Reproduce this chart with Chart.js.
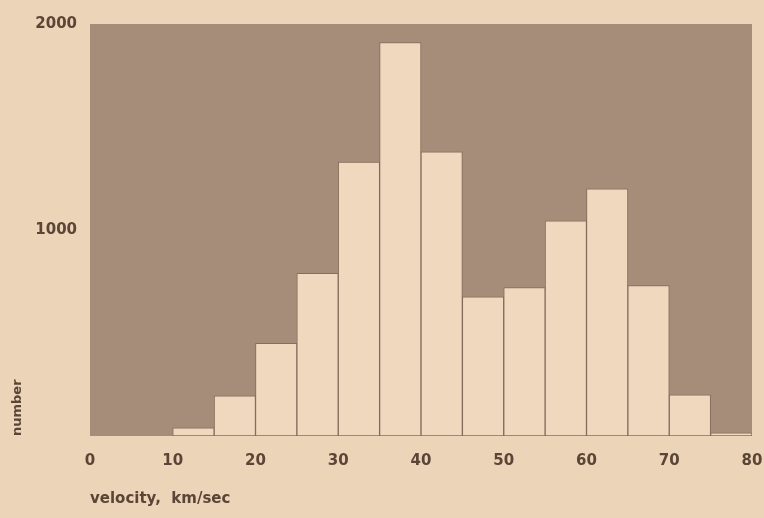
<!DOCTYPE html>
<html>
<head>
<meta charset="utf-8">
<script src="https://cdn.jsdelivr.net/npm/chart.js@4"></script>
<style>
  html, body { margin: 0; padding: 0; background: #ecd4b9; }
  #wrap { width: 764px; height: 518px; }
</style>
</head>
<body>
<div id="wrap"><canvas id="canvas" width="764" height="518"></canvas></div>
<script>
// velocity bins, 5 km/sec wide (bin centres)
const binCentres = [2.5, 7.5, 12.5, 17.5, 22.5, 27.5, 32.5, 37.5, 42.5, 47.5, 52.5, 57.5, 62.5, 67.5, 72.5, 77.5];
const counts = [0, 0, 40, 195, 450, 790, 1330, 1910, 1380, 675, 720, 1045, 1200, 730, 200, 15];
const xTicks = [0, 10, 20, 30, 40, 50, 60, 70, 80];
const yTicks = [1000, 2000];

const inkColor = '#5a4536';
const plotBg = '#a68d79';
const pageBg = '#ecd4b9';
const fontFamily = '"DejaVu Sans", sans-serif';

const bgPlugin = {
    id: 'bg',
    beforeDraw: (chart) => {
        const {ctx, chartArea} = chart;
        ctx.save();
        ctx.fillStyle = pageBg;
        ctx.fillRect(0, 0, chart.width, chart.height);
        ctx.fillStyle = plotBg;
        ctx.fillRect(chartArea.left, chartArea.top, chartArea.right - chartArea.left, chartArea.bottom - chartArea.top);
        ctx.restore();
    }
};

const data = {
    datasets: [{
        label: 'number',
        data: binCentres.map((x, i) => ({x: x, y: counts[i]})),
        backgroundColor: '#f0d8bf',
        borderColor: 'rgba(125,100,85,0.8)',
        borderWidth: 1,
        borderSkipped: false,
        barPercentage: 1,
        categoryPercentage: 1
    }]
};

const config = {
    type: 'bar',
    data: data,
    options: {
        responsive: false,
        animation: false,
        layout: { padding: { top: 24, right: 0, left: 0, bottom: 0 } },
        plugins: {
            legend: { display: false },
            tooltip: { enabled: false }
        },
        scales: {
            x: {
                type: 'linear',
                min: 0,
                max: 80,
                offset: false,
                grid: { display: false, drawTicks: false },
                border: { display: false },
                afterBuildTicks: (scale) => { scale.ticks = xTicks.map(v => ({value: v})); },
                afterFit: (scale) => {
                    scale.height = 82;
                    scale.paddingRight = 12;
                    scale.paddingLeft = 0;
                },
                ticks: {
                    padding: 16,
                    color: inkColor,
                    maxRotation: 0,
                    callback: (v) => String(v),
                    font: { family: fontFamily, weight: 'bold', size: 15 }
                },
                title: {
                    display: true,
                    text: 'velocity,  km/sec',
                    align: 'start',
                    color: inkColor,
                    padding: { top: 0, bottom: 10 },
                    font: { family: fontFamily, weight: 'bold', size: 15 }
                }
            },
            y: {
                min: 0,
                max: 2000,
                grid: { display: false, drawTicks: false },
                border: { display: false },
                afterBuildTicks: (scale) => { scale.ticks = yTicks.map(v => ({value: v})); },
                afterFit: (scale) => { scale.width = 90; },
                ticks: {
                    padding: 13,
                    color: inkColor,
                    callback: (v) => String(v),
                    font: { family: fontFamily, weight: 'bold', size: 15 }
                },
                title: {
                    display: true,
                    text: 'number',
                    align: 'start',
                    color: inkColor,
                    padding: { top: 10, bottom: 0 },
                    font: { family: fontFamily, weight: 'bold', size: 13 }
                }
            }
        }
    },
    plugins: [bgPlugin]
};

new Chart(document.getElementById('canvas'), config);
</script>
</body>
</html>
